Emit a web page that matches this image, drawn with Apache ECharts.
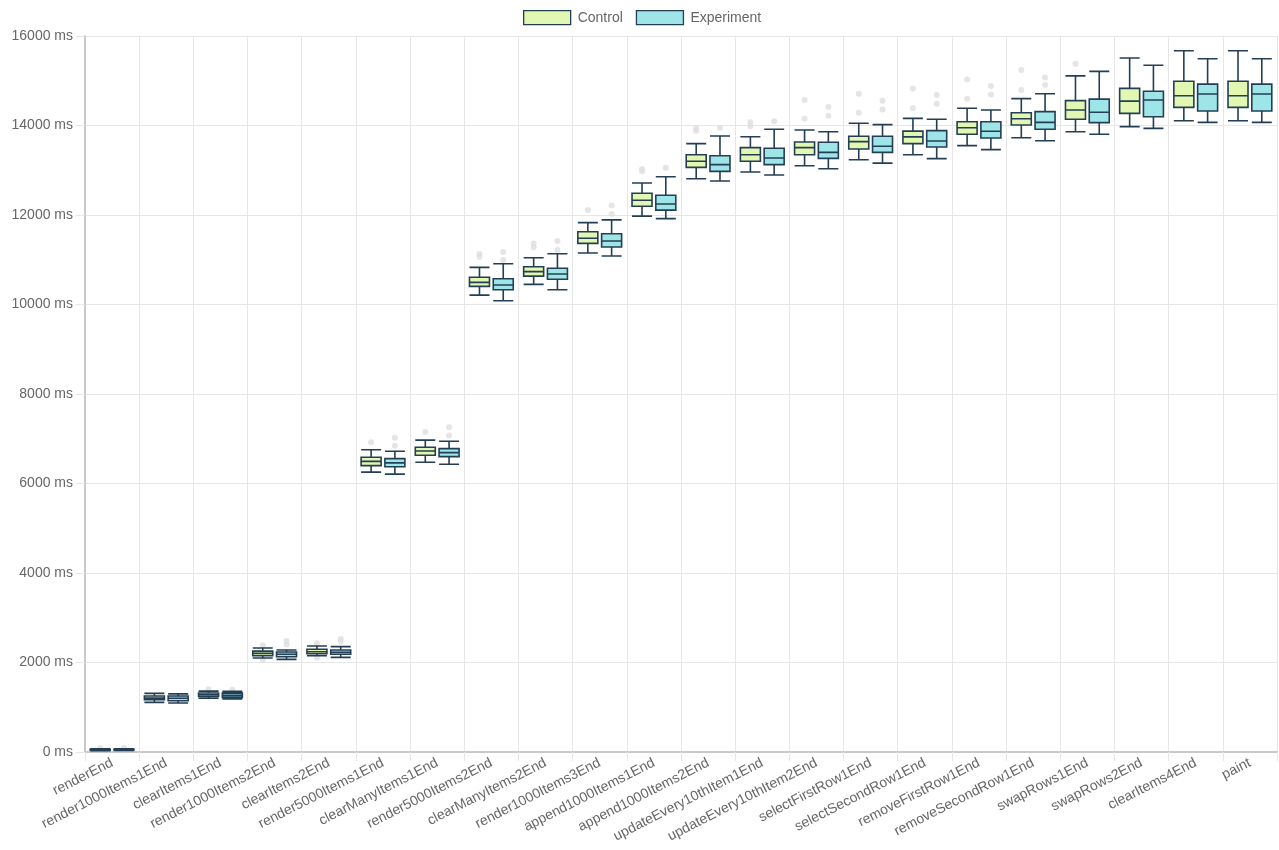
<!DOCTYPE html>
<html>
<head>
<meta charset="utf-8">
<title>Control vs Experiment</title>
<script src="https://cdn.jsdelivr.net/npm/echarts@6/dist/echarts.min.js"></script>
<style>
    html, body { margin: 0; padding: 0; background: #fff; }
    #chart { width: 1279px; height: 850px; }
</style>
</head>
<body>
<div id="chart"></div>
<script>
// Kategoriler (ölçüm noktaları)
const categories = [
    "renderEnd", "render1000Items1End", "clearItems1End", "render1000Items2End",
    "clearItems2End", "render5000Items1End", "clearManyItems1End", "render5000Items2End",
    "clearManyItems2End", "render1000Items3End", "append1000Items1End", "append1000Items2End",
    "updateEvery10thItem1End", "updateEvery10thItem2End", "selectFirstRow1End", "selectSecondRow1End",
    "removeFirstRow1End", "removeSecondRow1End", "swapRows1End", "swapRows2End",
    "clearItems4End", "paint"
];

// [min, q1, medyan, q3, max]
const controlBoxes = [
    [30, 42, 50, 58, 70],
    [1110, 1170, 1205, 1250, 1310],
    [1200, 1240, 1280, 1320, 1360],
    [2100, 2150, 2205, 2255, 2325],
    [2150, 2195, 2240, 2295, 2370],
    [6255, 6400, 6495, 6585, 6755],
    [6475, 6630, 6725, 6810, 6970],
    [10210, 10405, 10495, 10610, 10830],
    [10450, 10635, 10735, 10845, 11045],
    [11150, 11365, 11480, 11625, 11830],
    [11975, 12195, 12330, 12485, 12715],
    [12810, 13065, 13200, 13345, 13595],
    [12960, 13200, 13345, 13505, 13750],
    [13100, 13345, 13505, 13630, 13900],
    [13235, 13475, 13640, 13760, 14050],
    [13345, 13595, 13745, 13875, 14160],
    [13550, 13805, 13950, 14085, 14385],
    [13725, 14010, 14150, 14285, 14600],
    [13860, 14140, 14345, 14555, 15110],
    [13975, 14270, 14545, 14830, 15510],
    [14105, 14405, 14665, 14990, 15670],
    [14105, 14405, 14665, 14990, 15670]
];

const experimentBoxes = [
    [32, 44, 52, 60, 72],
    [1095, 1145, 1200, 1250, 1300],
    [1185, 1220, 1265, 1315, 1355],
    [2070, 2130, 2185, 2235, 2280],
    [2115, 2185, 2230, 2280, 2355],
    [6210, 6375, 6460, 6555, 6720],
    [6430, 6600, 6690, 6780, 6945],
    [10085, 10330, 10435, 10575, 10910],
    [10330, 10565, 10680, 10810, 11135],
    [11085, 11285, 11420, 11580, 11890],
    [11920, 12110, 12245, 12440, 12855],
    [12760, 12975, 13125, 13325, 13765],
    [12895, 13125, 13275, 13490, 13915],
    [13035, 13265, 13400, 13625, 13860],
    [13160, 13400, 13535, 13760, 14020],
    [13260, 13520, 13655, 13885, 14140],
    [13460, 13720, 13870, 14085, 14345],
    [13660, 13915, 14070, 14310, 14710],
    [13805, 14065, 14295, 14590, 15210],
    [13935, 14195, 14570, 14765, 15345],
    [14070, 14325, 14705, 14925, 15490],
    [14070, 14325, 14705, 14925, 15490]
];

// Aykırı değerler (kategori başına)
const controlOutliers = [
    [85], [], [1400], [2380, 2060], [2430, 2105], [6920], [7150], [11060, 11130],
    [11280, 11365], [12110], [12980, 13030], [13880, 13940], [13985, 14075], [14150, 14570],
    [14285, 14710], [14385, 14825], [14600, 15030], [14795, 15240], [15380], [], [], []
];

const experimentOutliers = [
    [88], [], [1390], [2400, 2480], [2470, 2525], [6845, 7025], [7070, 7255], [10995, 11175],
    [11220, 11420], [12020, 12215], [13055], [13945], [14095], [14220, 14415],
    [14355, 14555], [14485, 14680], [14690, 14880], [14905, 15075], [], [], [], []
];

const yTicks = { min: 0, max: 16000, interval: 2000 };

// =============================
// Grafik
// =============================
const chart = echarts.init(document.getElementById("chart"));

const FONT = "Liberation Sans";
const LABEL = "#666";
const GRID = "#e6e6e6";
const BORDER = "#243f55";
const CONTROL_FILL = "#e2f7b2";
const EXP_FILL = "#9de5e6";

function toPoints(list) {
    const pts = [];
    list.forEach((vals, i) => vals.forEach(v => pts.push([i, v])));
    return pts;
}

const option = {
    animation: false,
    legend: {
        top: 10,
        left: 523,
        padding: 0,
        icon: "rect",
        itemWidth: 47,
        itemHeight: 14,
        itemGap: 13,
        data: [
            { name: "Control", itemStyle: { color: CONTROL_FILL, borderColor: BORDER, borderWidth: 1.3 } },
            { name: "Experiment", itemStyle: { color: EXP_FILL, borderColor: BORDER, borderWidth: 1.3 } }
        ],
        textStyle: { fontFamily: FONT, fontSize: 14, color: LABEL, padding: [0, 0, 0, 2] }
    },
    grid: { left: 85, right: 2, top: 36, bottom: 98 },
    xAxis: {
        type: "category",
        data: categories,
        boundaryGap: true,
        axisLine: { lineStyle: { color: "#c8c8c8", width: 2 } },
        axisTick: { show: true, length: 9, lineStyle: { color: GRID } },
        splitLine: { show: true, lineStyle: { color: GRID } },
        axisLabel: {
            interval: 0,
            rotate: 27,
            margin: 10,
            fontFamily: FONT,
            fontSize: 14,
            color: LABEL
        }
    },
    yAxis: {
        type: "value",
        min: yTicks.min,
        max: yTicks.max,
        interval: yTicks.interval,
        axisLine: { show: true, lineStyle: { color: "#c8c8c8", width: 2 } },
        axisTick: { show: true, length: 9, lineStyle: { color: GRID } },
        splitLine: { lineStyle: { color: GRID } },
        axisLabel: {
            formatter: v => v + " ms",
            margin: 12,
            fontFamily: FONT,
            fontSize: 14,
            color: LABEL
        }
    },
    series: [
        {
            name: "Control",
            type: "boxplot",
            data: controlBoxes,
            boxWidth: [20, 20],
            itemStyle: { color: CONTROL_FILL, borderColor: BORDER, borderWidth: 1.6 },
            emphasis: { disabled: true }
        },
        {
            name: "Experiment",
            type: "boxplot",
            data: experimentBoxes,
            boxWidth: [20, 20],
            itemStyle: { color: EXP_FILL, borderColor: BORDER, borderWidth: 1.6 },
            emphasis: { disabled: true }
        },
        {
            name: "Control outliers",
            type: "scatter",
            data: toPoints(controlOutliers),
            symbolSize: 6,
            symbolOffset: [-11.9, 0],
            itemStyle: { color: "#dedede" },
            z: 1,
            emphasis: { disabled: true }
        },
        {
            name: "Experiment outliers",
            type: "scatter",
            data: toPoints(experimentOutliers),
            symbolSize: 6,
            symbolOffset: [11.9, 0],
            itemStyle: { color: "#dedede" },
            z: 1,
            emphasis: { disabled: true }
        }
    ]
};

chart.setOption(option);
</script>
</body>
</html>
